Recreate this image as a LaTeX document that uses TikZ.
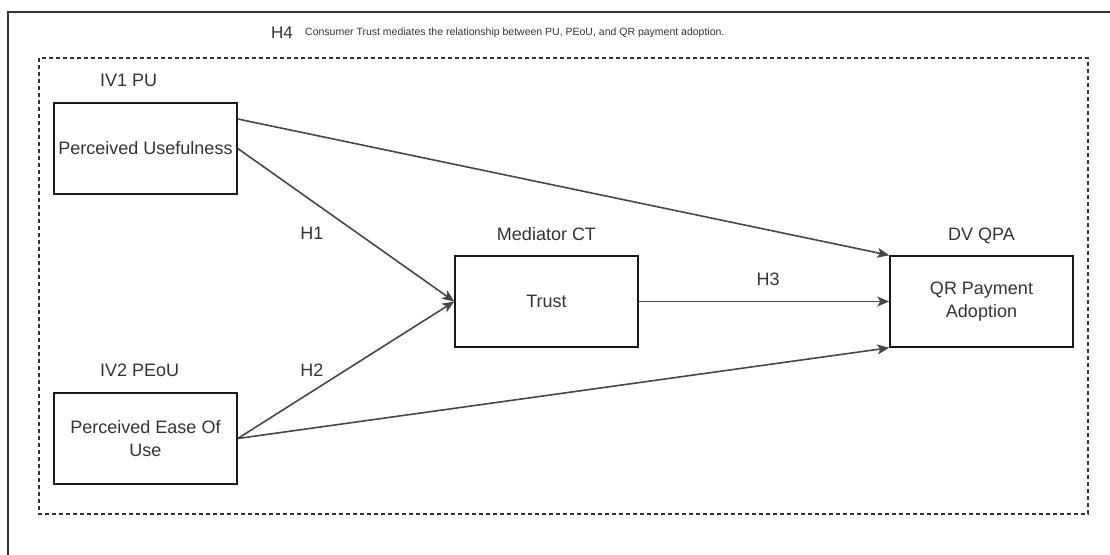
\documentclass[tikz,border=0pt]{standalone}
\usepackage{fontspec}
\setmainfont{Liberation Sans}
\usetikzlibrary{arrows.meta, positioning}

\begin{document}
\begin{tikzpicture}[x=1pt, y=-1pt,
    box/.style={draw=black!90, line width=1.5pt, minimum width=183pt, minimum height=91pt,
      align=center, text=black!80, font=\fontsize{18}{23}\selectfont, inner sep=0pt},
    lbl/.style={text=black!80, font=\fontsize{18}{22}\selectfont, inner sep=0pt},
    link/.style={draw=black!72, line width=1.6pt, -{Stealth[length=12pt, width=10pt, inset=3pt]}}]
    \useasboundingbox (0,0) rectangle (1110,554);

    % frames
    \draw[black!80, line width=1.5pt] (8,560) -- (8,12) -- (1115,12);
    \draw[black!80, line width=1.2pt, dash pattern=on 4pt off 3pt] (39,58) rectangle (1088,514);

    \node[lbl, font=\fontsize{17}{20}\selectfont] (h4) at (282,33) {H4};
    \node[lbl, anchor=west, font=\fontsize{10.5}{12}\selectfont] (h4txt) at (305,33)
      {Consumer Trust mediates the relationship between PU, PEoU, and QR payment adoption.};

    \node[box] (pu) at (145.5,148.5) {Perceived Usefulness};
    \node[box] (peou) at (145.5,438.5) {Perceived Ease Of\\Use};
    \node[box] (ct) at (546.5,301.5) {Trust};
    \node[box] (qpa) at (981.5,301.5) {QR Payment\\Adoption};

    \node[lbl, anchor=west] (iv1) at (100,80) {IV1 PU};
    \node[lbl, anchor=west] (iv2) at (100,370) {IV2 PEoU};
    \node[lbl] (med) at (546.5,234) {Mediator CT};
    \node[lbl] (dv) at (981.5,236) {DV QPA};

    \node[lbl] (h1) at (312,233) {H1};
    \node[lbl] (h2) at (312,370) {H2};
    \node[lbl] (h3) at (768,279) {H3};

    \draw[link] ([yshift=29.5pt]pu.east) -- (qpa.north west);
    \draw[link] (pu.east) -- (ct.west);
    \draw[link] (peou.east) -- (ct.west);
    \draw[link] (peou.east) -- (qpa.south west);
    \draw[link] (ct.east) -- (qpa.west);
  \end{tikzpicture}
\end{document}
